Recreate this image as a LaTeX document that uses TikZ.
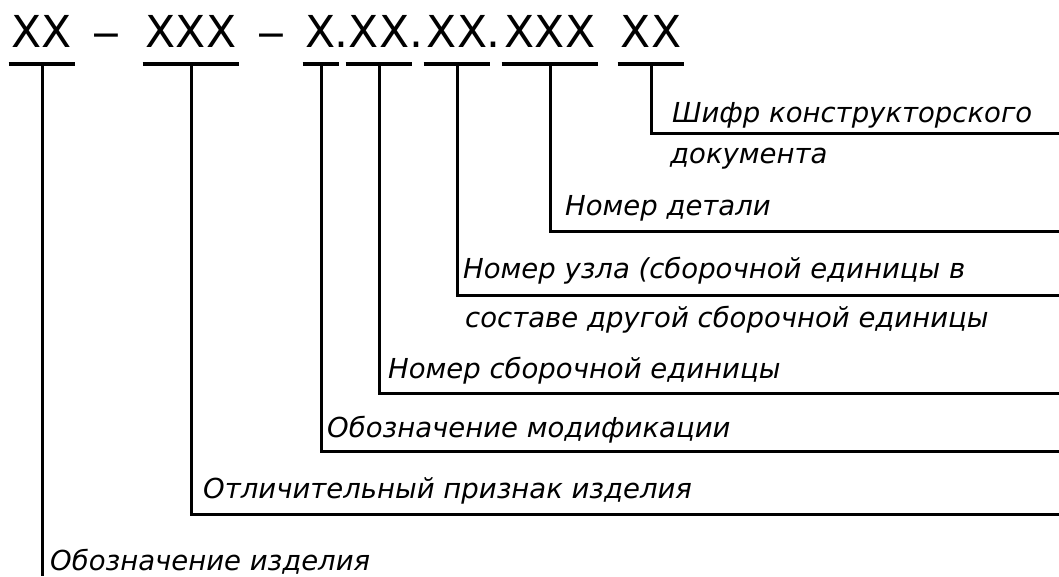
\documentclass[tikz,border=0pt]{standalone}
\usepackage{fontspec}
\setmainfont{DejaVu Sans}
\usetikzlibrary{positioning}
\tikzstyle{code} = [inner sep=0pt, anchor=base, font=\fontsize{44}{44}\selectfont]
\tikzstyle{hyphen} = [inner sep=0pt, anchor=base, font=\fontsize{38}{38}\selectfont]
\tikzstyle{note} = [inner sep=0pt, anchor=base west, font=\itshape\fontsize{27.5}{27.5}\selectfont]
\tikzstyle{bar} = [line width=3.5pt]
\tikzstyle{leader} = [line width=3pt]

\begin{document}
\begin{tikzpicture}[x=1pt,y=-1pt]
    \useasboundingbox (0,0) rectangle (1059,576);

    % designation
    \node [code] at (42,47) (c1) {XX};
    \node [hyphen] at (106,47) (d1) {−};
    \node [code] at (191,47) (c2) {XXX};
    \node [hyphen] at (271,47) (d2) {−};
    \node [code] at (321,47) (c3) {X};
    \node [code] at (341,47) (p1) {.};
    \node [code] at (379,47) (c4) {XX};
    \node [code] at (416,47) (p2) {.};
    \node [code] at (457,47) (c5) {XX};
    \node [code] at (493,47) (p3) {.};
    \node [code] at (550,47) (c6) {XXX};
    \node [code] at (651,47) (c7) {XX};

    % explanations
    \node [note] at (672,122) (n7) {Шифр конструкторского};
    \node [note] at (670,163) (n7b) {документа};
    \node [note] at (565,215) (n6) {Номер детали};
    \node [note] at (463,278) (n5) {Номер узла (сборочной единицы в};
    \node [note] at (465,327) (n5b) {составе другой сборочной единицы};
    \node [note] at (388,378) (n4) {Номер сборочной единицы};
    \node [note] at (327,437) (n3) {Обозначение модификации};
    \node [note] at (203,498) (n2) {Отличительный признак изделия};
    \node [note] at (50,570) (n1) {Обозначение изделия};

    \coordinate (e7) at (1059,133);
    \coordinate (e6) at (1059,231);
    \coordinate (e5) at (1059,295);
    \coordinate (e4) at (1059,393);
    \coordinate (e3) at (1059,451);
    \coordinate (e2) at (1059,514);
    \coordinate (e1) at (42,576);

    \foreach \c in {c1,c2,c3,c4,c5,c6,c7}
        \draw [bar] ([shift={(-3pt,-17pt)}]\c.base west) -- ([shift={(3pt,-17pt)}]\c.base east);

    \draw [leader] ([yshift=-17pt]c7.base) |- (e7);
    \draw [leader] ([yshift=-17pt]c6.base) |- (e6);
    \draw [leader] ([yshift=-17pt]c5.base) |- (e5);
    \draw [leader] ([yshift=-17pt]c4.base) |- (e4);
    \draw [leader] ([yshift=-17pt]c3.base) |- (e3);
    \draw [leader] ([yshift=-17pt]c2.base) |- (e2);
    \draw [leader] ([yshift=-17pt]c1.base) -- (e1);
\end{tikzpicture}
\end{document}
